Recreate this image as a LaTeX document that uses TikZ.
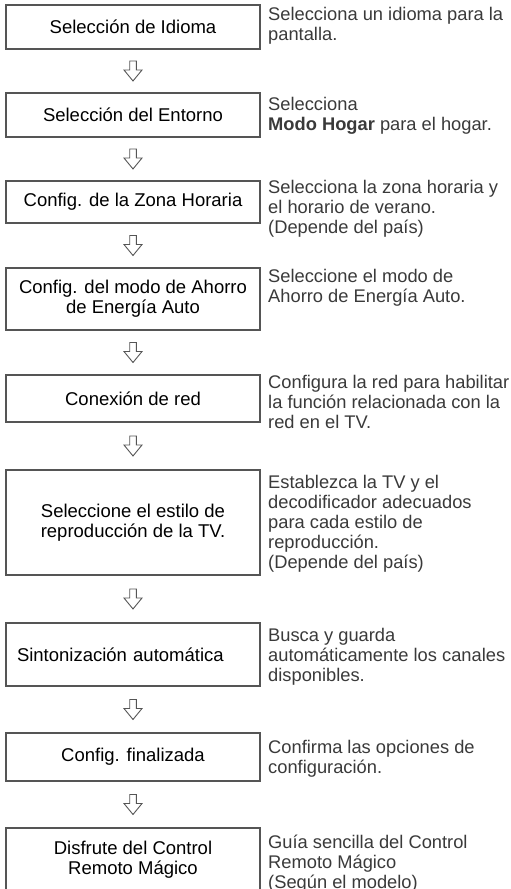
\documentclass[tikz,border=0pt]{standalone}
\usepackage{fontspec}
\setmainfont{Liberation Sans}
\usetikzlibrary{positioning}

\definecolor{framegray}{HTML}{555555}
\definecolor{notegray}{HTML}{3A3A3A}

\begin{document}
\begin{tikzpicture}[
  x=1pt, y=1pt,
  node distance=44pt,
  stepbox/.style={draw=framegray, line width=1.1pt, outer sep=0pt, align=center, minimum width=254pt, minimum height=44pt, inner sep=4pt, font=\fontsize{18.5}{20}\selectfont, text=black},
  note/.style={anchor=north west, align=left, inner sep=0pt, font=\fontsize{18.3}{20}\selectfont, text=notegray},
  hollow/.style={draw=framegray, line width=0.9pt, fill=white, line join=miter}
]
\useasboundingbox[fill=white] (0,0) rectangle (511,-889);

% steps
\node[stepbox, anchor=north] (s1) at (133,-5) {Selección de Idioma};
\node[stepbox, below=of s1] (s2) {Selección del Entorno};
\node[stepbox, below=of s2, minimum height=42pt] (s3) {Config. de la Zona Horaria};
\node[stepbox, below=45pt of s3, minimum height=62pt] (s4) {Config. del modo de Ahorro\\de Energía Auto};
\node[stepbox, below=45pt of s4, minimum height=47pt] (s5) {Conexión de red};
\node[stepbox, below=48pt of s5, minimum height=105pt] (s6) {Seleccione el estilo de\\reproducción de la TV.};
\node[stepbox, below=48pt of s6, minimum height=63pt, align=left, text width=232pt, inner xsep=11pt] (s7) {Sintonización automática};
\node[stepbox, below=47pt of s7, minimum height=48pt] (s8) {Config. finalizada};
\node[stepbox, below=47pt of s8, minimum height=63pt] (s9) {Disfrute del Control\\Remoto Mágico};

% notes
\node[note] (n1) at ([xshift=8pt, yshift=-2pt]s1.north east) {Selecciona un idioma para la\\pantalla.};
\node[note] (n2) at ([xshift=8pt, yshift=-4pt]s2.north east) {Selecciona\\\textbf{Modo Hogar} para el hogar.};
\node[note] (n3) at ([xshift=8pt, yshift=1pt]s3.north east) {Selecciona la zona horaria y\\el horario de verano.\\(Depende del país)};
\node[note] (n4) at ([xshift=8pt, yshift=-1pt]s4.north east) {Seleccione el modo de\\Ahorro de Energía Auto.};
\node[note] (n5) at ([xshift=8pt]s5.north east) {Configura la red para habilitar\\la función relacionada con la\\red en el TV.};
\node[note] (n6) at ([xshift=8pt, yshift=-5pt]s6.north east) {Establezca la TV y el\\decodificador adecuados\\para cada estilo de\\reproducción.\\(Depende del país)};
\node[note] (n7) at ([xshift=8pt, yshift=-5pt]s7.north east) {Busca y guarda\\automáticamente los canales\\disponibles.};
\node[note] (n8) at ([xshift=8pt, yshift=-7pt]s8.north east) {Confirma las opciones de\\configuración.};
\node[note] (n9) at ([xshift=8pt, yshift=-7pt]s9.north east) {Guía sencilla del Control\\Remoto Mágico\\(Según el modelo)};

% hollow arrows between steps
\foreach \a/\b in {s1/s2,s2/s3,s3/s4,s4/s5,s5/s6,s6/s7,s7/s8,s8/s9} {
  \path (\a) -- coordinate[midway] (m\a) (\b);
  \draw[hollow] ([shift={(-3.3,10)}]m\a) -- ++(6.6,0) -- ++(0,-9) -- ++(5.7,0) -- ++(-9,-11) -- ++(-9,11) -- ++(5.7,0) -- cycle;
}
\end{tikzpicture}
\end{document}
